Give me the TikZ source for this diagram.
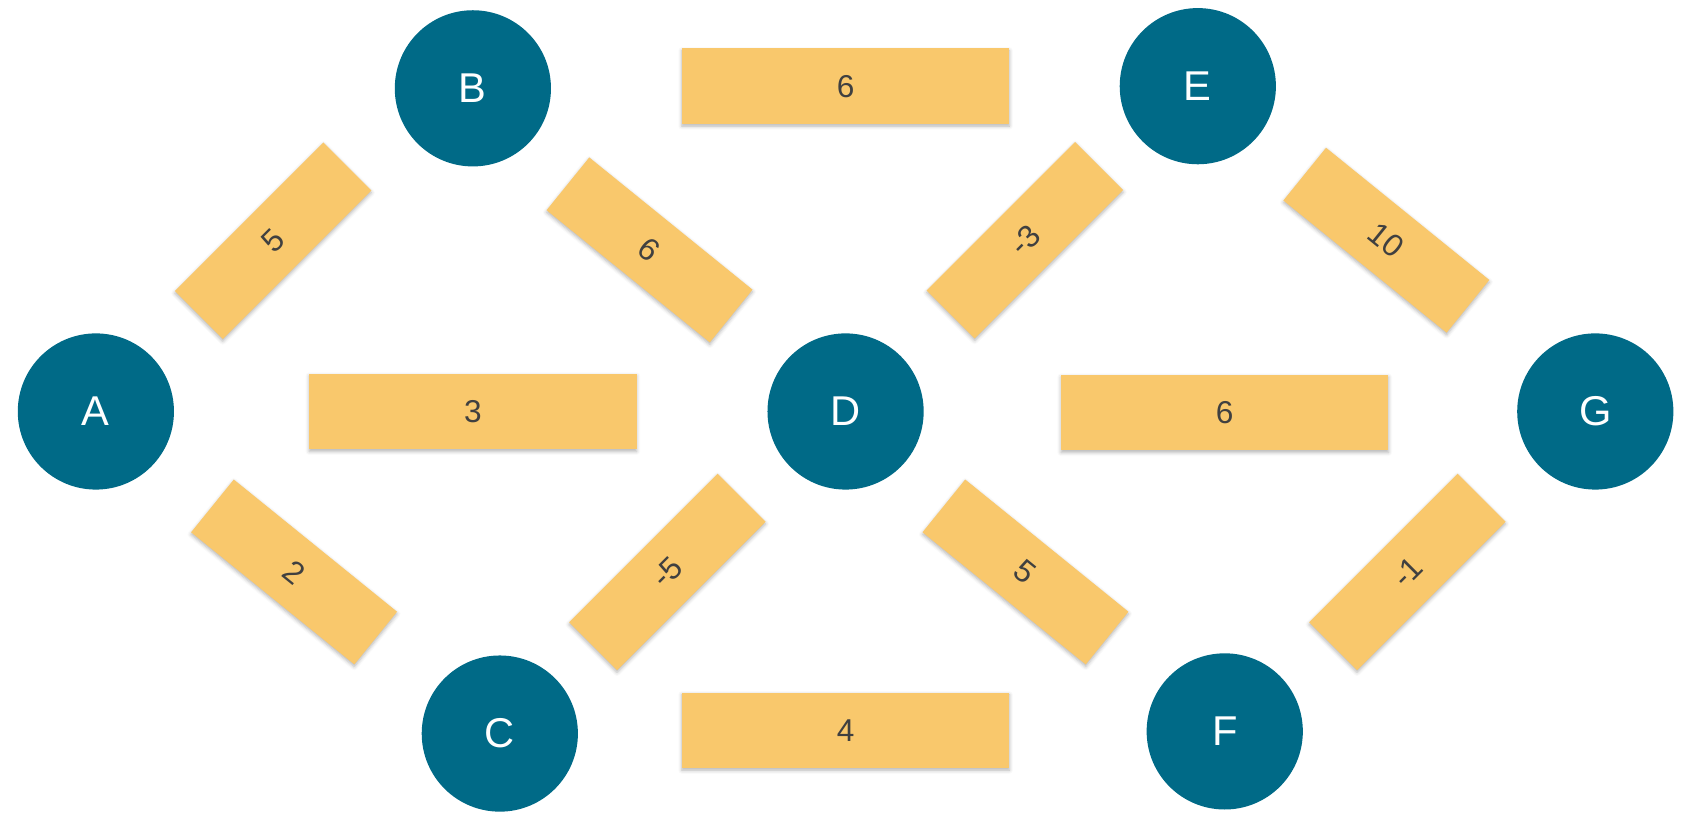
\documentclass[tikz,border=0pt]{standalone}
\usepackage{fontspec}
\setmainfont{Liberation Sans}
\usepackage{xcolor}
\usetikzlibrary{shadows,shadows.blur}
\definecolor{vertexteal}{RGB}{0,106,135}
\definecolor{weightfill}{RGB}{249,200,108}
\definecolor{weighttext}{RGB}{64,64,64}
\tikzset{every picture/.style={line width=0.75pt}}
\tikzset{
  vertex/.style={circle, fill=vertexteal, draw=none, minimum size=108.75pt, inner sep=0pt,
    text=white, font=\fontsize{29}{30}\selectfont},
  weight/.style={rectangle, fill=weightfill, draw=none, inner sep=0pt,
    text=weighttext, font=\fontsize{22}{23}\selectfont,
    blur shadow={shadow xshift=0pt, shadow yshift=-1.5pt, shadow blur radius=2.5pt, shadow opacity=30}},
  hweight/.style={weight, minimum width=228pt, minimum height=52.5pt},
  dweight/.style={weight, minimum width=146.25pt, minimum height=47.25pt},
}

\begin{document}
\begin{tikzpicture}[x=0.75pt,y=0.75pt,yscale=-1,xscale=1]
\useasboundingbox (0,0) rectangle (1568,754);

% Weights, horizontal
\draw (785,80) node [hweight] (BE) {6};
\draw (439,382) node [hweight] (AD) {3};
\draw (1137,383) node [hweight] (DG) {6};
\draw (785,678) node [hweight] (CF) {4};
% Weights, rising
\draw (253.5,223.5) node [dweight, rotate=45] (AB) {5};
\draw (951.5,223) node [dweight, rotate=45] (DE) {-3};
\draw (619.5,531) node [dweight, rotate=45] (CD) {-5};
\draw (1306.5,531) node [dweight, rotate=45] (FG) {-1};
% Weights, falling
\draw (603,232) node [dweight, rotate=-39] (BD) {6};
\draw (1287,223) node [dweight, rotate=-39] (EG) {10};
\draw (273,531) node [dweight, rotate=-39] (AC) {2};
\draw (952,531) node [dweight, rotate=-39] (DF) {5};

% Vertices
\draw (89,382) node [vertex] (A) {A};
\draw (439,82) node [vertex] (B) {B};
\draw (464,681) node [vertex] (C) {C};
\draw (785,382) node [vertex] (D) {D};
\draw (1112,80) node [vertex] (E) {E};
\draw (1137,679) node [vertex] (F) {F};
\draw (1481,382) node [vertex] (G) {G};

\end{tikzpicture}
\end{document}
